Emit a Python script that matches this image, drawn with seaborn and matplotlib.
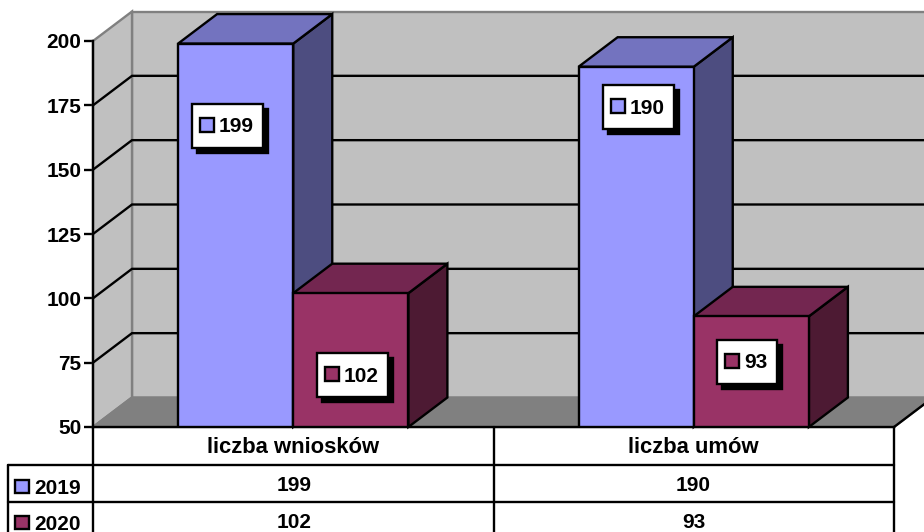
import matplotlib
matplotlib.use("Agg")
import matplotlib.pyplot as plt
from matplotlib.patches import Polygon, Rectangle
import pandas as pd
import seaborn as sns

kategorie = ["liczba wniosków", "liczba umów"]
lata = ["2019", "2020"]
wartosci_2019 = [199, 190]
wartosci_2020 = [102, 93]
ticki = [50, 75, 100, 125, 150, 175, 200]

kolory = {"2019": "#9999FF", "2020": "#993366"}
kolory_gora = {"2019": "#7373BF", "2020": "#732650"}
kolory_bok = {"2019": "#4D4D80", "2020": "#4D1A33"}

df = pd.DataFrame({
    "kategoria": kategorie * 2,
    "rok": [lata[0]] * 2 + [lata[1]] * 2,
    "wartosc": wartosci_2019 + wartosci_2020,
})

sns.set_style("white")
plt.rcParams["font.family"] = ["Liberation Sans", "DejaVu Sans"]
plt.rcParams["font.weight"] = "bold"
plt.rcParams["text.color"] = "black"
plt.rcParams["xtick.color"] = "black"
plt.rcParams["ytick.color"] = "black"

W, H = 924, 532
LW = 1.7
FS = 15
fig = plt.figure(figsize=(W / 100, H / 100), dpi=100)

# os glowna: przednia plaszczyzna wykresu (piksele 93-894, 41-427)
ax = fig.add_axes([93 / W, 1 - 427 / H, 801 / W, 386 / H])
ax.patch.set_visible(False)
sns.barplot(data=df, x="kategoria", y="wartosc", hue="rok", palette=kolory, width=0.575, gap=0, saturation=1,
            edgecolor="black", linewidth=LW, legend=False, ax=ax, zorder=5)
ax.set_xlim(-0.5, 1.5)
ax.set_ylim(50, 200)
ax.set_yticks(ticki)
ax.set_xlabel("")
ax.set_ylabel("")
ax.tick_params(axis="y", length=6.5, width=LW, labelsize=FS, pad=2, left=True)
ax.tick_params(axis="x", length=0, labelsize=15.8, pad=7)
sns.despine(ax=ax, right=True, top=True, bottom=False)
for s in ["left", "bottom"]:
    ax.spines[s].set_linewidth(LW)
    ax.spines[s].set_color("black")
    ax.spines[s].set_zorder(6)
for t in ax.get_yticklabels() + ax.get_xticklabels():
    t.set_fontweight("bold")
    t.set_color("black")

# glebokosc 3D w jednostkach danych
DX = 39 / 400.5
DY = 29.5 / (386 / 150)
x0, x1 = ax.get_xlim()
y0, y1 = ax.get_ylim()


def wielokat(pts, fc, ec, z, lw=LW):
    ax.add_patch(Polygon(pts, closed=True, facecolor=fc, edgecolor=ec, linewidth=lw, zorder=z, clip_on=False))


# sciany i podloga
wielokat([(x0 + DX, y0 + DY), (x1 + DX, y0 + DY), (x1 + DX, y1 + DY), (x0 + DX, y1 + DY)], "#C0C0C0", "#808080", 0.5)
wielokat([(x0, y0), (x0 + DX, y0 + DY), (x0 + DX, y1 + DY), (x0, y1)], "#C0C0C0", "#808080", 0.6)
wielokat([(x0, y0), (x1, y0), (x1 + DX, y0 + DY), (x0 + DX, y0 + DY)], "#808080", "#808080", 0.7)
ax.plot([x1, x1 + DX], [y0, y0 + DY], color="black", lw=LW, clip_on=False, zorder=0.8)

for v in ticki[1:-1]:
    ax.plot([x0, x0 + DX, x1 + DX], [v, v + DY, v + DY], color="black", lw=LW, clip_on=False, zorder=1,
            solid_joinstyle="miter")

# boki i gory slupkow
slupki = [p for p in ax.patches if isinstance(p, Rectangle)][:4]
rok_slupka = [lata[0]] * 2 + [lata[1]] * 2
for i, p in enumerate(slupki):
    a, b = p.get_x(), p.get_x() + p.get_width()
    h = p.get_height()
    z = 2 + i * 0.1
    wielokat([(b, y0), (b + DX, y0 + DY), (b + DX, h + DY), (b, h)], kolory_bok[rok_slupka[i]], "black", z)
    wielokat([(a, h), (b, h), (b + DX, h + DY), (a + DX, h + DY)], kolory_gora[rok_slupka[i]], "black", z)

# nakladka w pikselach: tabela i etykiety
ov = fig.add_axes([0, 0, 1, 1])
ov.set_xlim(0, W)
ov.set_ylim(H, 0)
ov.axis("off")
ov.patch.set_visible(False)

for y in [465, 502]:
    ov.plot([8, 894], [y, y], color="black", lw=LW)
for x, a in [(8, 465), (93, 427), (494, 427), (894, 427)]:
    ov.plot([x, x], [a, 532], color="black", lw=LW)

wiersze_y = [(488.5, 485.5), (524, 522.5)]
for rok, (yl, yv), kl, wart in zip(lata, wiersze_y, [486, 522.5], [wartosci_2019, wartosci_2020]):
    ov.add_patch(Rectangle((15, kl - 6.5), 14, 13, facecolor=kolory[rok], edgecolor="black", linewidth=LW))
    ov.text(34, yl, rok, fontsize=FS, fontweight="bold", va="center", ha="left")
    for xc, w in zip([294, 693.5], wart):
        ov.text(xc, yv, str(w), fontsize=FS, fontweight="bold", va="center", ha="center")

# etykiety danych (lewy gorny rog ramki)
etykiety = [wartosci_2019[0], wartosci_2019[1], wartosci_2020[0], wartosci_2020[1]]
pozycje = [(192, 104, 71), (603, 85, 71), (317, 353, 71), (717, 340, 60)]
for w, (lx, ly, szer), rok in zip(etykiety, pozycje, rok_slupka):
    ov.add_patch(Rectangle((lx + 5, ly + 5), szer, 44, facecolor="black", edgecolor="black", linewidth=LW))
    ov.add_patch(Rectangle((lx, ly), szer, 44, facecolor="white", edgecolor="black", linewidth=LW))
    ov.add_patch(Rectangle((lx + 8, ly + 14), 14, 14, facecolor=kolory[rok], edgecolor="black", linewidth=LW))
    ov.text(lx + 27, ly + 23, str(w), fontsize=FS, fontweight="bold", va="center", ha="left")

fig.savefig("out.png", dpi=100)
